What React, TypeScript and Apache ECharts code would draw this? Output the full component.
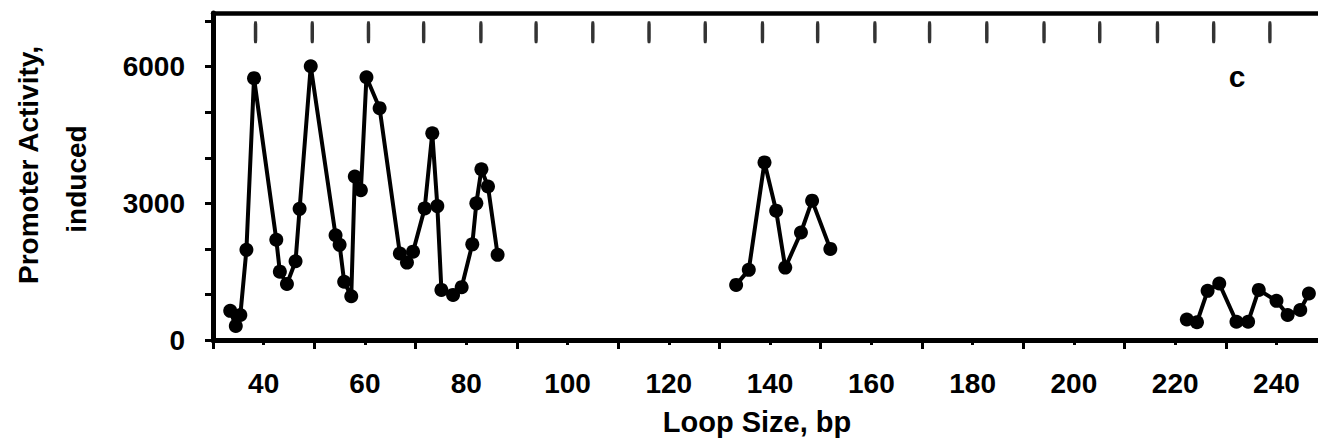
import React, { useEffect, useRef } from "react";
import * as echarts from "echarts";

// Loop size (bp) and induced promoter activity, three groups of constructs
const loopShort = [33.4, 34.5, 35.4, 36.6, 38.1, 42.5, 43.2, 44.6, 46.3, 47.1, 49.3, 54.2, 55.0, 55.9, 57.3, 58.0, 59.2, 60.3, 62.9, 66.9, 68.3, 69.5, 71.8, 73.3, 74.3, 75.1, 77.4, 79.1, 81.2, 82.0, 83.0, 84.3, 86.2];
const activityShort = [640, 310, 550, 1980, 5750, 2200, 1500, 1230, 1730, 2880, 6010, 2300, 2090, 1280, 960, 3590, 3290, 5770, 5090, 1900, 1700, 1940, 2890, 4540, 2940, 1100, 990, 1160, 2100, 3000, 3750, 3370, 1870];

const loopMid = [133.3, 135.8, 138.9, 141.2, 143.0, 146.1, 148.3, 151.9];
const activityMid = [1210, 1540, 3900, 2840, 1590, 2360, 3060, 2000];

const loopLong = [222.3, 224.3, 226.4, 228.7, 232.1, 234.4, 236.5, 240.0, 242.2, 244.7, 246.4];
const activityLong = [450, 390, 1080, 1240, 400, 400, 1100, 860, 550, 660, 1020];

// Helical phase markers along the top of the panel (bp)
const phaseMarks = [38.4, 49.6, 60.7, 71.6, 82.9, 93.8, 105.0, 116.1, 127.2, 138.5, 149.4, 160.7, 171.5, 182.8, 194.1, 205.1, 216.5, 227.6, 238.7];
const phaseMarkLevel = 6760;

// Axis ticks and labels
const xLabelValues = [40, 60, 80, 100, 120, 140, 160, 180, 200, 220, 240];
const xLongTicks = [30, 50, 70, 90, 110, 130, 150, 170, 190, 210, 230];
const yLabelValues = [0, 3000, 6000];
const yTickValues = [0, 1000, 2000, 3000, 4000, 5000, 6000, 7000];

const FONT = "'Liberation Sans', Arial, Helvetica, sans-serif";

const pairs = (xs: number[], ys: number[]) => xs.map((x, i) => [x, ys[i]]);
const plain = (v: number) => String(v);

export default function App() {
  const ref = useRef<HTMLDivElement>(null);

  useEffect(() => {
    if (!ref.current) return;
    const chart = echarts.init(ref.current, undefined, { renderer: "svg" });

    const lineSeries = (name: string, xs: number[], ys: number[]) => ({
      name,
      type: "line",
      xAxisIndex: 0,
      yAxisIndex: 0,
      data: pairs(xs, ys),
      symbol: "circle",
      symbolSize: 14,
      showSymbol: true,
      lineStyle: { color: "#000", width: 4 },
      itemStyle: { color: "#000" },
      z: 5,
    });

    chart.setOption({
      animation: false,
      backgroundColor: "#fff",
      grid: {
        left: 213,
        right: 0,
        top: 13,
        bottom: 104,
        containLabel: false,
        outerBoundsMode: "none",
      },
      xAxis: [
        {
          type: "value",
          min: 30,
          max: 248.2,
          position: "bottom",
          splitLine: { show: false },
          axisLine: { show: true, onZero: false, lineStyle: { color: "#000", width: 5 } },
          axisTick: {
            show: true,
            length: 5,
            customValues: xLabelValues,
            lineStyle: { color: "#000", width: 3 },
          },
          axisLabel: {
            show: true,
            customValues: xLabelValues,
            formatter: plain,
            margin: 29,
            color: "#000",
            fontFamily: FONT,
            fontWeight: "bold",
            fontSize: 28,
          },
        },
        {
          type: "value",
          min: 30,
          max: 248.2,
          position: "bottom",
          splitLine: { show: false },
          axisLine: { show: false, onZero: false },
          axisTick: {
            show: true,
            length: 9,
            customValues: xLongTicks,
            lineStyle: { color: "#000", width: 3 },
          },
          axisLabel: { show: false },
        },
        {
          type: "value",
          min: 30,
          max: 248.2,
          position: "top",
          splitLine: { show: false },
          axisLine: { show: true, onZero: false, lineStyle: { color: "#000", width: 4.5 } },
          axisTick: { show: false },
          axisLabel: { show: false },
        },
      ],
      yAxis: {
        type: "value",
        min: 0,
        max: 7180,
        splitLine: { show: false },
        axisLine: { show: true, onZero: false, lineStyle: { color: "#000", width: 5 } },
        axisTick: {
          show: true,
          length: 8,
          customValues: yTickValues,
          lineStyle: { color: "#000", width: 3 },
        },
        axisLabel: {
          show: true,
          customValues: yLabelValues,
          formatter: plain,
          margin: 28,
          color: "#000",
          fontFamily: FONT,
          fontWeight: "bold",
          fontSize: 28,
        },
      },
      series: [
        lineSeries("short loops", loopShort, activityShort),
        lineSeries("medium loops", loopMid, activityMid),
        lineSeries("long loops", loopLong, activityLong),
        {
          name: "phase",
          type: "scatter",
          xAxisIndex: 0,
          yAxisIndex: 0,
          data: phaseMarks.map((x) => [x, phaseMarkLevel]),
          symbol: "roundRect",
          symbolSize: [3.5, 22],
          itemStyle: { color: "#000" },
          silent: true,
        },
      ],
      graphic: [
        {
          type: "text",
          x: 757,
          y: 422,
          style: {
            text: "Loop Size, bp",
            fill: "#000",
            font: `bold 29px ${FONT}`,
            textAlign: "center",
            textVerticalAlign: "middle",
          },
        },
        {
          type: "text",
          x: 28,
          y: 165,
          rotation: Math.PI / 2,
          style: {
            text: "Promoter Activity,",
            fill: "#000",
            font: `bold 28px ${FONT}`,
            textAlign: "center",
            textVerticalAlign: "middle",
          },
        },
        {
          type: "text",
          x: 76,
          y: 179,
          rotation: Math.PI / 2,
          style: {
            text: "induced",
            fill: "#000",
            font: `bold 28px ${FONT}`,
            textAlign: "center",
            textVerticalAlign: "middle",
          },
        },
        {
          type: "text",
          x: 1237,
          y: 76,
          style: {
            text: "c",
            fill: "#000",
            font: `bold 30px ${FONT}`,
            textAlign: "center",
            textVerticalAlign: "middle",
          },
        },
      ],
    });

    return () => chart.dispose();
  }, []);

  return (
    <div
      ref={ref}
      style={{ position: "absolute", left: 0, top: 0, width: 1318, height: 444 }}
    />
  );
}
